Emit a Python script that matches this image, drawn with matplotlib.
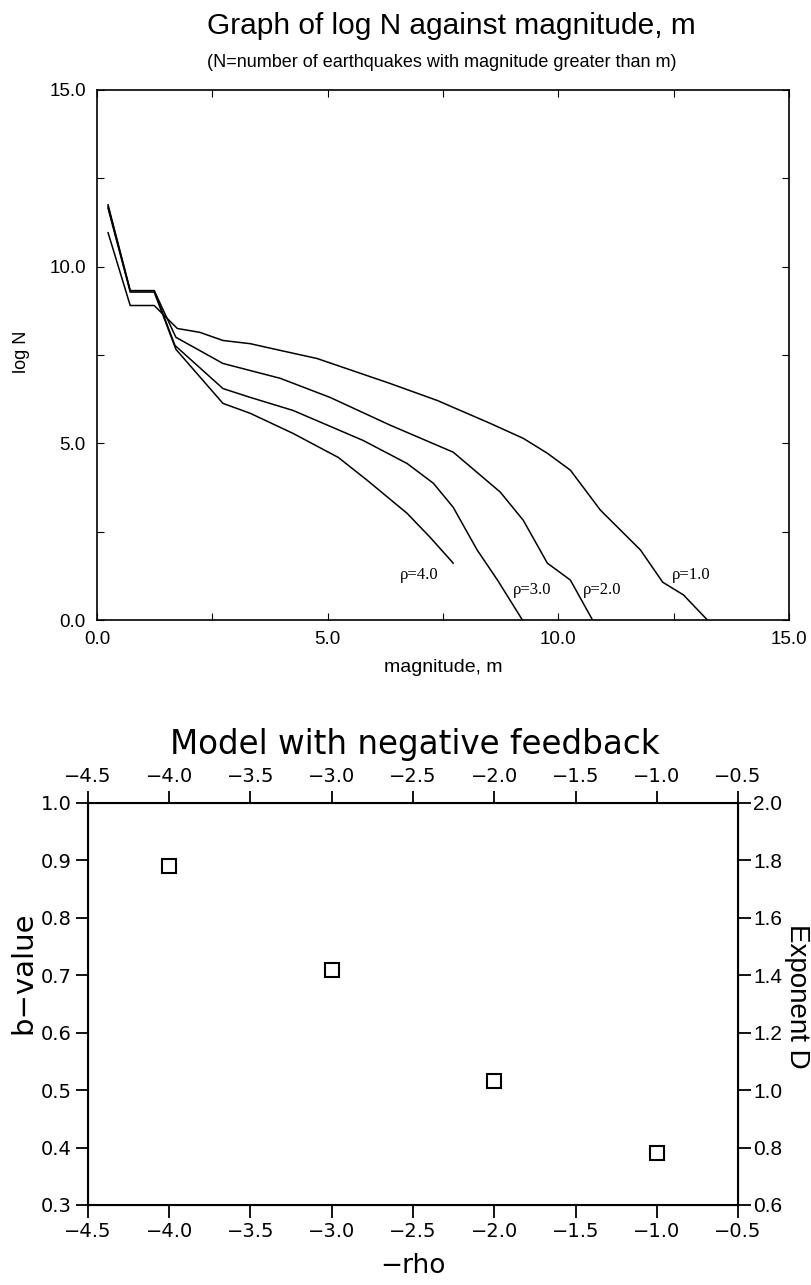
import numpy as np
import matplotlib
matplotlib.use("Agg")
import matplotlib.pyplot as plt
from matplotlib.ticker import FuncFormatter

# ---- data: log N vs magnitude for each rho ----
m_rho1 = [0.24, 0.72, 1.24, 1.74, 2.23, 2.73, 3.32, 3.97, 4.77, 6.36, 7.38, 8.53, 9.24, 9.76, 10.26, 10.91, 11.78, 12.26, 12.71, 13.23]
n_rho1 = [10.96, 8.9, 8.9, 8.25, 8.14, 7.91, 7.82, 7.63, 7.40, 6.69, 6.21, 5.56, 5.14, 4.72, 4.24, 3.11, 1.98, 1.07, 0.71, 0.0]

m_rho2 = [0.24, 0.72, 1.24, 1.71, 2.73, 3.32, 3.97, 5.05, 6.36, 7.72, 8.74, 9.24, 9.76, 10.26, 10.74]
n_rho2 = [11.75, 9.32, 9.32, 8.0, 7.26, 7.06, 6.84, 6.30, 5.51, 4.75, 3.62, 2.82, 1.61, 1.13, 0.0]

m_rho3 = [0.24, 0.72, 1.24, 1.69, 2.73, 3.32, 4.25, 5.77, 6.72, 7.29, 7.72, 8.24, 8.68, 9.22]
n_rho3 = [11.7, 9.32, 9.32, 7.77, 6.55, 6.30, 5.93, 5.08, 4.43, 3.87, 3.19, 1.98, 1.13, 0.0]

m_rho4 = [0.24, 0.72, 1.24, 1.71, 2.73, 3.32, 4.25, 5.23, 5.86, 6.72, 7.22, 7.72]
n_rho4 = [11.65, 9.28, 9.28, 7.66, 6.13, 5.85, 5.28, 4.60, 3.95, 3.02, 2.34, 1.61]

curve_labels = ["ρ=1.0", "ρ=2.0", "ρ=3.0", "ρ=4.0"]
label_x = [12.47, 10.54, 9.02, 6.57]
label_y = [1.27, 0.85, 0.85, 1.27]

# ---- data: b-value vs -rho ----
neg_rho = [-4.0, -3.0, -2.0, -1.0]
b_value = [0.89, 0.71, 0.515, 0.39]

minus_fmt = FuncFormatter(lambda v, p: ("%.1f" % v).replace("-", "\u2212"))

W, H = 811, 1285
fig = plt.figure(figsize=(W / 100, H / 100), dpi=100)

# -------------------------
# top panel
# -------------------------
ax1 = fig.add_axes([0.1196, 0.5175, 0.8534, 0.4125])
for mx, ny in [(m_rho1, n_rho1), (m_rho2, n_rho2), (m_rho3, n_rho3), (m_rho4, n_rho4)]:
    ax1.plot(mx, ny, color="black", lw=1.1)
for txt, lx, ly in zip(curve_labels, label_x, label_y):
    ax1.text(lx, ly, txt, family="Liberation Serif", fontsize=12, va="center", ha="left")

ax1.set_xlim(0, 15)
ax1.set_ylim(0, 15)
ax1.set_xticks(np.arange(0, 15.1, 2.5))
ax1.set_yticks(np.arange(0, 15.1, 2.5))
ax1.set_xticklabels(["0.0", "", "5.0", "", "10.0", "", "15.0"], family="Liberation Sans", fontsize=13.5)
ax1.set_yticklabels(["0.0", "", "5.0", "", "10.0", "", "15.0"], family="Liberation Sans", fontsize=13.5)
ax1.tick_params(direction="in", length=5, top=True, right=True, pad=8)
ax1.set_xlabel("magnitude, m", family="Liberation Sans", fontsize=14, labelpad=8)
for sp in ax1.spines.values():
    sp.set_linewidth(1.2)

fig.text(22 / W, 1 - 352 / H, "log N", family="Liberation Sans", fontsize=13,
         rotation=90, ha="center", va="center")
fig.text(0.556, 0.9795, "Graph of log N against magnitude, m", family="Liberation Sans",
         fontsize=21.5, ha="center", va="center")
fig.text(0.545, 0.9517, "(N=number of earthquakes with magnitude greater than m)",
         family="Liberation Sans", fontsize=13, ha="center", va="center")

# -------------------------
# bottom panel
# -------------------------
ax2 = fig.add_axes([0.1085, 0.0623, 0.8015, 0.3128])
ax2.plot(neg_rho, b_value, "s", mfc="none", mec="black", ms=10, mew=1.5)
ax2.set_xlim(-4.5, -0.5)
ax2.set_ylim(0.3, 1.0)
ax2.set_xticks(np.arange(-4.5, -0.49, 0.5))
ax2.set_yticks(np.arange(0.3, 1.01, 0.1))
ax2.xaxis.set_major_formatter(minus_fmt)
ax2.yaxis.set_major_formatter(minus_fmt)
ax2.tick_params(direction="out", length=9, width=1.3, top=True, labeltop=True,
                labelsize=14, pad=3)
for sp in ax2.spines.values():
    sp.set_linewidth(1.5)

ax3 = ax2.twinx()
ax3.set_ylim(0.6, 2.0)
ax3.set_yticks(np.arange(0.6, 2.01, 0.2))
ax3.yaxis.set_major_formatter(minus_fmt)
ax3.tick_params(direction="out", length=9, width=1.3, labelsize=15, pad=2)
for lab in ax3.get_yticklabels():
    lab.set_family("Liberation Sans")

fig.text(413 / W, 1 - 1266 / H, "\u2212rho", fontsize=19, ha="center", va="center")
fig.text(23 / W, 1 - 973 / H, "b\u2212value", fontsize=21, rotation=90, ha="center", va="center")
fig.text(797 / W, 1 - 996 / H, "Exponent D", family="Liberation Sans", fontsize=20,
         rotation=270, ha="center", va="center")
fig.text(0.512, 0.4205, "Model with negative feedback", fontsize=23.5, ha="center", va="center")

fig.savefig("out.png", dpi=100)
